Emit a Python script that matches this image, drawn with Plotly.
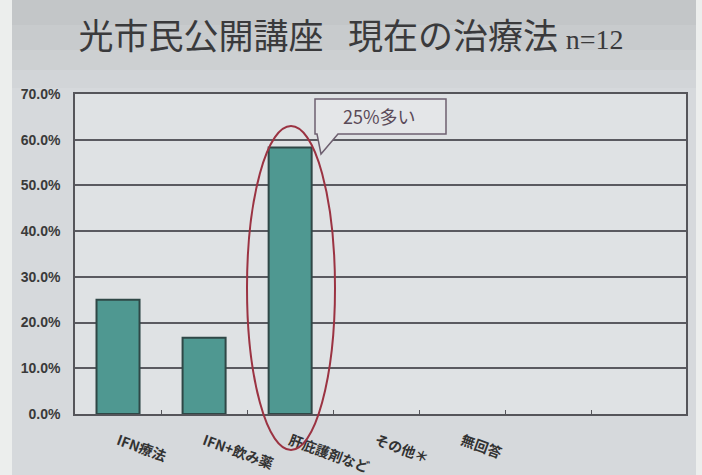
import plotly.graph_objects as go

# Survey of current treatments (n=12)
categories = ["IFN療法", "IFN+飲み薬", "肝庇護剤など", "その他＊", "無回答"]
shares = [0.25, 0.167, 0.583, 0.0, 0.0]
y_ticks = [0.0, 0.1, 0.2, 0.3, 0.4, 0.5, 0.6, 0.7]

W, H = 702, 475
L, R, T, B = 75, 16, 94, 61
PW, PH = W - L - R, H - T - B


def px(x, y):
    """Convert canvas pixels to paper coordinates."""
    return (x - L) / PW, (H - B - y) / PH


x_pos = list(range(len(categories)))

fig = go.Figure()
fig.add_trace(go.Bar(
    x=x_pos,
    y=shares,
    width=0.5,
    marker=dict(color="#4f9891",
                line=dict(color="#2f4746", width=[2 if v > 0 else 0 for v in shares])),
    hoverinfo="skip",
))

shapes = []
# slide background with darker title band
x0, y0 = px(12, 0)
x1, y1 = px(696, H)
shapes.append(dict(type="rect", xref="paper", yref="paper", x0=x0, y0=y1, x1=x1, y1=y0,
                   fillcolor="#d6d9dc", line=dict(width=0), layer="below"))
for top, bot, col in [(0, 25, "#c3c6c8"), (25, 50, "#c8cbcd"), (50, 70, "#cdd0d2"), (70, 88, "#d2d5d8")]:
    a0, b0 = px(12, top)
    a1, b1 = px(696, bot)
    shapes.append(dict(type="rect", xref="paper", yref="paper", x0=a0, y0=b1, x1=a1, y1=b0,
                       fillcolor=col, line=dict(width=0), layer="below"))
# plot area fill
shapes.append(dict(type="rect", xref="paper", yref="paper", x0=0, y0=0, x1=1, y1=1,
                   fillcolor="#dfe2e4", line=dict(width=0), layer="below"))

# ellipse highlighting the third bar
ex0, ey0 = px(247, 126)
ex1, ey1 = px(335, 450)
shapes.append(dict(type="circle", xref="paper", yref="paper", x0=ex0, y0=ey1, x1=ex1, y1=ey0,
                   line=dict(color="#9b3342", width=2), layer="above"))

# callout box with pointer
pts = [(315, 99), (446, 99), (446, 134), (338, 134), (321, 154), (317, 134), (315, 134)]
path = "M " + " L ".join(f"{px(a, b)[0]:.4f},{px(a, b)[1]:.4f}" for a, b in pts) + " Z"
shapes.append(dict(type="path", xref="paper", yref="paper", path=path,
                   fillcolor="#e4e6e8", line=dict(color="#6e6070", width=1.5), layer="above"))

tx, ty = px(379, 116)
annotations = [dict(xref="paper", yref="paper", x=tx, y=ty, text="25%多い", showarrow=False,
                    font=dict(family="Noto Sans CJK JP", size=18, color="#5a4a58"),
                    xanchor="center", yanchor="middle")]

fig.update_layout(
    width=W, height=H,
    margin=dict(l=L, r=R, t=T, b=B, autoexpand=False),
    paper_bgcolor="#eceeed",
    plot_bgcolor="rgba(0,0,0,0)",
    showlegend=False,
    title=dict(
        text="光市民公開講座\u2002\u2009現在の治療法 <span style='font-family:Liberation Serif;font-size:28px'>n=12</span>",
        x=0.5, xanchor="center", y=1 - 37 / H, yanchor="middle",
        font=dict(family="Noto Sans CJK JP", size=35, color="#3a3a3c"),
    ),
    shapes=shapes,
    annotations=annotations,
    bargap=0.5,
)

fig.update_xaxes(
    range=[-0.5, 6.6], automargin=False,
    tickmode="array", tickvals=x_pos, ticktext=categories,
    tickangle=20, ticks="", ticklabelstandoff=12,
    tickfont=dict(family="Noto Sans CJK JP", size=14, color="#333333", weight="bold"),
    showgrid=False, zeroline=False,
    showline=True, mirror=True, linecolor="#55555a", linewidth=1.5,
    minor=dict(tickmode="array", tickvals=[i + 0.5 for i in range(6)],
               ticks="inside", ticklen=4, tickcolor="#55555a", tickwidth=1, showgrid=False),
)
fig.update_yaxes(
    range=[0, 0.7], automargin=False,
    tickmode="array", tickvals=y_ticks, tickformat=".1%",
    tickfont=dict(family="Liberation Sans", size=14, color="#3a3a3a", weight="bold"),
    ticklabelstandoff=10,
    showgrid=True, gridcolor="#5a5a60", gridwidth=1.5,
    zeroline=False,
    showline=True, mirror=True, linecolor="#55555a", linewidth=1.5,
)

fig.write_html("out.html")
